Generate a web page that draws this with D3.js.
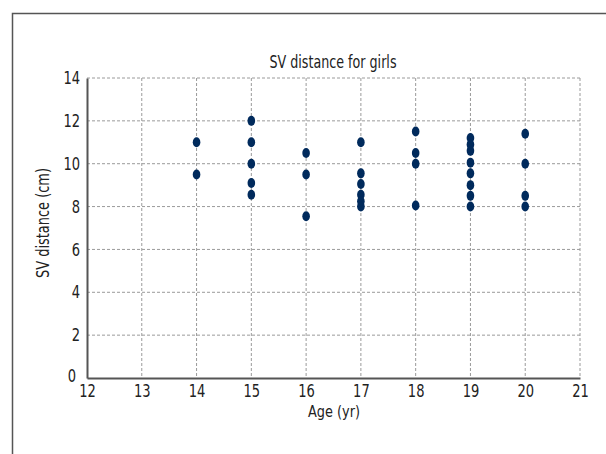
<!DOCTYPE html>
<html><head><meta charset="utf-8">
<script src="https://cdn.jsdelivr.net/npm/d3@7"></script>
<style>
body{margin:0;background:#fff;}
svg text{font-family:"Liberation Sans Narrow","DejaVu Sans Condensed",sans-serif;fill:#222;}
</style></head>
<body><svg id="c" width="606" height="454"></svg>
<script>
const ages = [14,14, 15,15,15,15,15, 16,16,16, 17,17,17,17,17,17, 18,18,18,18, 19,19,19,19,19,19,19,19, 20,20,20,20];
const svDistance = [11,9.5, 12,11,10,9.1,8.55, 10.5,9.5,7.55, 11,9.55,9.05,8.55,8.25,8.0, 11.5,10.5,10,8.05, 11.2,10.9,10.6,10.05,9.55,9.0,8.5,8.0, 11.4,10,8.5,8.0];
const xTicks = [12,13,14,15,16,17,18,19,20,21];
const yTicks = [0,2,4,6,8,10,12,14];
const title = "SV distance for girls";
const xLabel = "Age (yr)";
const yLabel = "SV distance (cm)";

const svg = d3.select("#c");
const L=87,R=580,T=78,B=378;
const x = d3.scaleLinear().domain([12,21]).range([L,R]);
const y = d3.scaleLinear().domain([0,14]).range([B,T]);

// frame
svg.append("path").attr("d","M12.5,454 L12.5,13.5 L606,13.5").attr("fill","none").attr("stroke","#555").attr("stroke-width",1.5);

// grid
svg.append("g").selectAll("line").data(xTicks.slice(1)).join("line")
  .attr("x1",d=>x(d)).attr("x2",d=>x(d)).attr("y1",T).attr("y2",B)
  .attr("stroke","#9a9a9a").attr("stroke-dasharray","3,2").attr("stroke-width",1);
svg.append("g").selectAll("line").data(yTicks.slice(1)).join("line")
  .attr("y1",d=>y(d)).attr("y2",d=>y(d)).attr("x1",L).attr("x2",R)
  .attr("stroke","#9a9a9a").attr("stroke-dasharray","3,2").attr("stroke-width",1);

// axes
const xa = svg.append("g").attr("transform",`translate(0,${B})`)
  .call(d3.axisBottom(x).tickValues(xTicks).tickSize(0).tickPadding(7).tickFormat(d3.format("d")));
const ya = svg.append("g").attr("transform",`translate(${L},0)`)
  .call(d3.axisLeft(y).tickValues(yTicks).tickSize(0).tickPadding(7).tickFormat(d3.format("d")));
[xa,ya].forEach(g=>{
  g.select(".domain").attr("stroke","#555").attr("stroke-width",2);
  g.selectAll("text").attr("font-size",17.5).attr("fill","#222")
   .attr("textLength",d=>String(d).length*8.3).attr("lengthAdjust","spacingAndGlyphs");
});
ya.selectAll(".tick").filter(d=>d===0).select("text").attr("dy","0.2em").attr("x",-11);

// points
svg.append("g").selectAll("ellipse").data(ages).join("ellipse")
  .attr("cx",(d)=>x(d)).attr("cy",(d,i)=>y(svDistance[i]))
  .attr("rx",3.8).attr("ry",5).attr("fill","#002a5c");

// texts
svg.append("text").attr("x",333).attr("y",68).attr("text-anchor","middle").attr("font-size",17)
  .attr("textLength",127).attr("lengthAdjust","spacingAndGlyphs").text(title);
svg.append("text").attr("x",334).attr("y",417).attr("text-anchor","middle").attr("font-size",16.5)
  .attr("textLength",52).attr("lengthAdjust","spacingAndGlyphs").text(xLabel);
svg.append("text").attr("transform",`translate(49,223) rotate(-90)`).attr("text-anchor","middle").attr("font-size",17)
  .attr("textLength",110).attr("lengthAdjust","spacingAndGlyphs").text(yLabel);
</script></body></html>
